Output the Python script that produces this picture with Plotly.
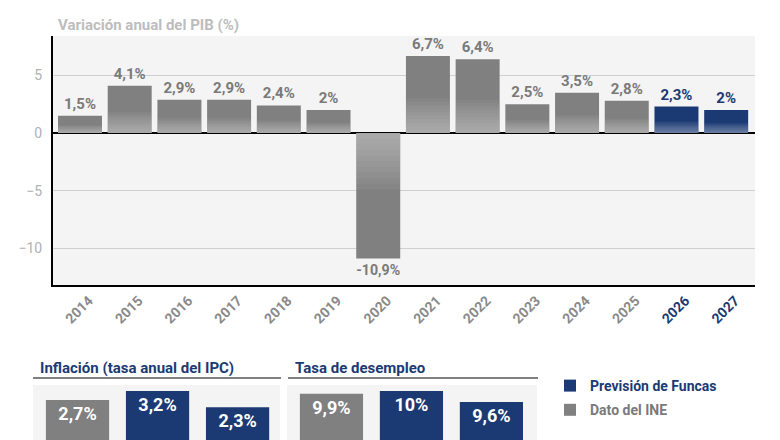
import plotly.graph_objects as go

# ---------------- data ----------------
years = [str(y) for y in range(2014, 2028)]
pib = [1.5, 4.1, 2.9, 2.9, 2.4, 2.0, -10.9, 6.7, 6.4, 2.5, 3.5, 2.8, 2.3, 2.0]
forecast_years = ["2026", "2027"]

panel_years = ["2025", "2026", "2027"]
inflacion = [2.7, 3.2, 2.3]
desempleo = [9.9, 10.0, 9.6]
panel_forecast = [False, True, True]

# ---------------- styles ----------------
W, H = 780, 440
GRAY = "#808080"
GRAY_TXT = "#7a7a7a"
NAVY = "#1b3a73"
FONT = "Roboto"


def fmt(v):
    return f"{v:g}".replace(".", ",") + "%"


def px_x(p):
    return p / W


def px_y(p):
    return 1 - p / H


fig = go.Figure()

# ---------------- main chart ----------------
hist_x = [y for y in years if y not in forecast_years]
hist_y = [v for y, v in zip(years, pib) if y not in forecast_years]
fc_x = [y for y in years if y in forecast_years]
fc_y = [v for y, v in zip(years, pib) if y in forecast_years]

fig.add_trace(go.Bar(
    x=hist_x, y=hist_y, name="<span style='color:#7a7a7a'>Dato del INE</span>",
    marker=dict(color=GRAY, line=dict(width=0)),
    text=[fmt(v) for v in hist_y], textposition="outside",
    textfont=dict(color=GRAY_TXT, size=15, family=FONT, weight="bold"),
    cliponaxis=False, legendrank=2, legendgroup="ine", xaxis="x", yaxis="y",
))
fig.add_trace(go.Bar(
    x=fc_x, y=fc_y, name="<span style='color:#1b3a73'>Previsión de Funcas</span>",
    marker=dict(color=NAVY, line=dict(width=0)),
    text=[fmt(v) for v in fc_y], textposition="outside",
    textfont=dict(color=NAVY, size=15, family=FONT, weight="bold"),
    cliponaxis=False, legendrank=1, legendgroup="funcas", xaxis="x", yaxis="y",
))

# gradient-like lightening towards the zero line
steps = [0.045 * k for k in range(1, 11)]
for f in steps:
    fig.add_trace(go.Bar(
        x=years, y=[v * f for v in pib],
        marker=dict(color="rgba(255,255,255,0.042)", line=dict(width=0)),
        hoverinfo="skip", showlegend=False, xaxis="x", yaxis="y",
    ))

# ---------------- small panels ----------------
for vals, xa, ya in [(inflacion, "x2", "y2"), (desempleo, "x3", "y3")]:
    fig.add_trace(go.Bar(
        x=panel_years, y=vals, width=0.79,
        marker=dict(color=[NAVY if f else GRAY for f in panel_forecast], line=dict(width=0)),
        text=[fmt(v) for v in vals], textposition="inside", insidetextanchor="end",
        textfont=dict(color="white", size=18, family=FONT, weight="bold"),
        showlegend=False, hoverinfo="skip", xaxis=xa, yaxis=ya,
    ))

ticktext = [f"<span style='color:{NAVY}'>{y}</span>" if y in forecast_years else y for y in years]

fig.update_layout(
    width=W, height=H,
    margin=dict(l=0, r=0, t=0, b=0),
    paper_bgcolor="white", plot_bgcolor="#f4f4f4",
    barmode="overlay", bargap=0.115,
    font=dict(family=FONT),
    xaxis=dict(
        domain=[px_x(53), px_x(755)], anchor="y", type="category",
        range=[-0.543, 13.58], tickvals=years, ticktext=ticktext, tickangle=-45,
        tickfont=dict(color="#8a8a8a", size=14, family=FONT, weight="bold"),
        showline=True, linecolor="black", linewidth=2, showgrid=False, ticks="",
        ticklabelshift=9, ticklabelstandoff=0,
        fixedrange=True,
    ),
    yaxis=dict(
        domain=[px_y(285), px_y(36)], anchor="x",
        range=[-13.2, 8.43], tickvals=[-10, -5, 0, 5],
        tickfont=dict(color="#b0b0b0", size=14, family=FONT),
        showline=True, linecolor="black", linewidth=2,
        gridcolor="#cfcfcf", gridwidth=1,
        zeroline=True, zerolinecolor="black", zerolinewidth=2,
        ticks="", ticklabelstandoff=6,
    ),
    xaxis2=dict(domain=[px_x(33), px_x(280)], anchor="y2", type="category",
                range=[-0.556, 2.53], showticklabels=False, showgrid=False, showline=False, ticks=""),
    yaxis2=dict(domain=[0, px_y(385)], anchor="x2", range=[0.48, 3.53],
                showticklabels=False, showgrid=False, zeroline=False, showline=False, ticks=""),
    xaxis3=dict(domain=[px_x(287), px_x(537)], anchor="y3", type="category",
                range=[-0.556, 2.57], showticklabels=False, showgrid=False, showline=False, ticks=""),
    yaxis3=dict(domain=[0, px_y(385)], anchor="x3", range=[8.22, 10.22],
                showticklabels=False, showgrid=False, zeroline=False, showline=False, ticks=""),
    legend=dict(
        x=px_x(550), y=px_y(370), xanchor="left", yanchor="top",
        font=dict(size=14, family=FONT, weight="bold"),
        bgcolor="rgba(0,0,0,0)", tracegroupgap=3,
    ),
    showlegend=True,
)

# titles
fig.add_annotation(
    text="Variación anual del PIB (%)", xref="paper", yref="paper",
    x=px_x(56), y=px_y(25), xanchor="left", yanchor="middle", showarrow=False,
    font=dict(color="#bdbdbd", size=15, family=FONT, weight="bold"),
)
for title, x0, x1 in [("Inflación (tasa anual del IPC)", 33, 281), ("Tasa de desempleo", 288, 538)]:
    fig.add_annotation(
        text=title, xref="paper", yref="paper",
        x=px_x(x0 + 5), y=px_y(368), xanchor="left", yanchor="middle", showarrow=False,
        font=dict(color=NAVY, size=15, family=FONT, weight="bold"),
    )
    fig.add_shape(type="line", xref="paper", yref="paper",
                  x0=px_x(x0), x1=px_x(x1), y0=px_y(378), y1=px_y(378),
                  line=dict(color="#808080", width=2))

fig.write_html("out.html")
